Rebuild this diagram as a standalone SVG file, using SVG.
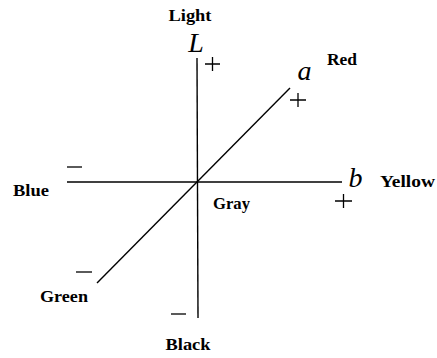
<svg xmlns="http://www.w3.org/2000/svg" width="437" height="358" viewBox="0 0 437 358">
<style>
.ax{stroke:#000;stroke-width:1.4;fill:none}
.sg{stroke:#000;stroke-width:1.3;fill:none}
.lb{font-family:"Liberation Serif",serif;font-weight:bold;font-size:17px;fill:#000}
.var{font-family:"Liberation Serif",serif;font-style:italic;font-size:28px;fill:#000}
</style>
<rect width="437" height="358" fill="#fff"/>
<g id="connectors">
<line class="ax" x1="197" y1="58" x2="198" y2="318"/>
<line class="ax" x1="67" y1="182" x2="342" y2="182"/>
<line class="ax" x1="97" y1="283" x2="290" y2="88"/>
</g>
<g id="L-axis">
<text class="lb" x="190" y="21" text-anchor="middle" textLength="43" lengthAdjust="spacingAndGlyphs">Light</text>
<text class="var" x="196" y="52" text-anchor="middle" font-size="29">L</text>
<path class="sg" d="M205 64H220M212.5 57V71"/>
<path class="sg" d="M171 314H186"/>
<text class="lb" x="188" y="350" text-anchor="middle" textLength="45" lengthAdjust="spacingAndGlyphs">Black</text>
</g>
<g id="a-axis">
<text class="var" x="304.5" y="80" text-anchor="middle">a</text>
<text class="lb" x="342" y="65" text-anchor="middle" textLength="30" lengthAdjust="spacingAndGlyphs">Red</text>
<path class="sg" d="M290 100H306M298 93V107"/>
<path class="sg" d="M76 272H92"/>
<text class="lb" x="64" y="302" text-anchor="middle" textLength="48" lengthAdjust="spacingAndGlyphs">Green</text>
</g>
<g id="b-axis">
<text class="var" x="355.5" y="187" text-anchor="middle">b</text>
<text class="lb" x="407.5" y="187" text-anchor="middle" textLength="55" lengthAdjust="spacingAndGlyphs">Yellow</text>
<path class="sg" d="M335 201H352M343.5 194V208"/>
<path class="sg" d="M67 167H82"/>
<text class="lb" x="31" y="196" text-anchor="middle" textLength="36" lengthAdjust="spacingAndGlyphs">Blue</text>
</g>
<g id="origin">
<text class="lb" x="231.5" y="209" text-anchor="middle" textLength="37" lengthAdjust="spacingAndGlyphs">Gray</text>
</g>
</svg>
